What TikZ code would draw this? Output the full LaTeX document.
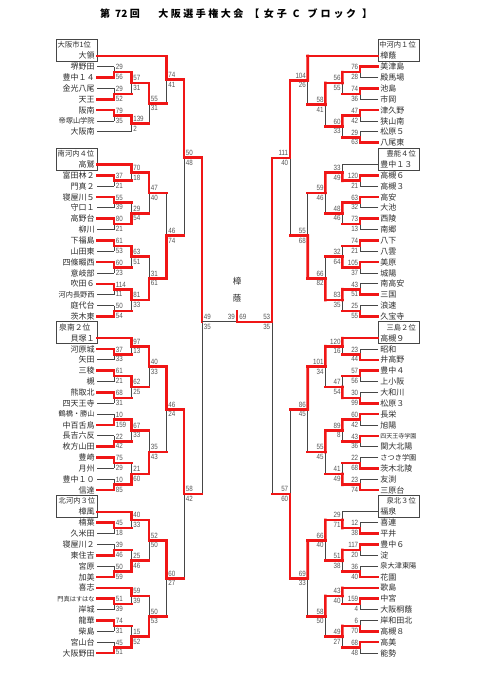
\documentclass[tikz,border=0pt]{standalone}
\usepackage{fontspec}
\setmainfont{Noto Sans CJK JP}
\newfontfamily\numfont[FakeStretch=0.82]{Liberation Sans}
\usetikzlibrary{calc}
\definecolor{wred}{RGB}{240,22,22}
\definecolor{lgray}{RGB}{70,70,70}
\definecolor{ntext}{RGB}{45,45,45}
\definecolor{stext}{RGB}{85,85,85}
\tikzset{
 lose/.style={draw=lgray,line width=0.85pt},
 win/.style={draw=wred,line width=2.6pt,line cap=rect},
 nmL/.style={anchor=east,inner xsep=2.2pt,inner ysep=0pt,text=ntext,font=\fontsize{8}{8}\selectfont},
 nmR/.style={anchor=west,inner xsep=2.2pt,inner ysep=0pt,text=ntext,font=\fontsize{8}{8}\selectfont},
 scbase/.style={text=stext,inner xsep=1.6pt,inner ysep=2pt,font=\numfont\fontsize{7.6}{7.6}\selectfont},
 hdr/.style={inner sep=0pt,text=ntext,font=\fontsize{7.3}{7.3}\selectfont},
 boxst/.style={draw=lgray,line width=0.9pt,minimum width=41pt,minimum height=22pt,inner sep=0pt},
 titlest/.style={inner sep=0pt,font=\bfseries\fontsize{10}{10}\selectfont,text=black},
 champst/.style={inner sep=0pt,align=center,text=ntext,font=\fontsize{8.5}{16.6}\selectfont},
}
\newcommand\mtL[9]{%
 \coordinate (#1t) at (#3 -| #2);
 \coordinate (#1b) at (#4 -| #2);
 \coordinate (#1) at ($(#1t)!0.5!(#1b)$);
 \draw[lose] (#1t) -- (#1b);
 \draw[#8] (#3) -- (#1t);
 \draw[#9] (#4) -- (#1b);
 \ifnum#5=1 \draw[win] (#1t) -- (#1);\else\draw[win] (#1b) -- (#1);\fi
 \node[scbase,anchor=south west] (#1u) at (#1) {#6};
 \node[scbase,anchor=north west] (#1d) at (#1) {#7};
}
\newcommand\mtR[9]{%
 \coordinate (#1t) at (#3 -| #2);
 \coordinate (#1b) at (#4 -| #2);
 \coordinate (#1) at ($(#1t)!0.5!(#1b)$);
 \draw[lose] (#1t) -- (#1b);
 \draw[#8] (#3) -- (#1t);
 \draw[#9] (#4) -- (#1b);
 \ifnum#5=1 \draw[win] (#1t) -- (#1);\else\draw[win] (#1b) -- (#1);\fi
 \node[scbase,anchor=south east] (#1u) at (#1) {#6};
 \node[scbase,anchor=north east] (#1d) at (#1) {#7};
}
\begin{document}
\begin{tikzpicture}[x=1pt,y=-1pt]
\fill[white] (0,0) rectangle (481,680);
\useasboundingbox (0,0) rectangle (481,680);
% title
\node[titlest,anchor=west] (title) at (100,14) {第\hspace{5pt}72\hspace{2.5pt}回\hspace{18.5pt}大\hspace{2.5pt}阪\hspace{2.5pt}選\hspace{2.5pt}手\hspace{2.5pt}権\hspace{2.5pt}大\hspace{2.5pt}会\hspace{6pt}【\hspace{4.5pt}女\hspace{3pt}子\hspace{6pt}C\hspace{8pt}ブ\hspace{3pt}ロ\hspace{3pt}ッ\hspace{2.5pt}ク\hspace{6pt}】};
% columns
\coordinate (c1) at (114,0); \coordinate (c2) at (131.5,0); \coordinate (c3) at (149,0);
\coordinate (c4) at (166.5,0); \coordinate (c5) at (184,0); \coordinate (c6) at (202,0);
\coordinate (d1) at (360,0); \coordinate (d2) at (342.3,0); \coordinate (d3) at (325.3,0);
\coordinate (d4) at (307.7,0); \coordinate (d5) at (290,0); \coordinate (d6) at (272,0);
% boxes
\foreach \k/\nm in {0/BL1,10/BL2,26/BL3,42/BL4}{
 \node[boxst] (\nm) at (76.5,{45+10.857*(\k+0.5)}) {};}
\foreach \k/\nm in {0/BR1,10/BR2,26/BR3,42/BR4}{
 \node[boxst] (\nm) at (398.5,{45+10.857*(\k+0.5)}) {};}
\node[hdr,anchor=west] (HL1) at (57.5,{45+10.857*0}) {大阪市1位};
\node[hdr,anchor=west] (HL2) at (57.5,{45+10.857*10}) {南河内４位};
\node[hdr,anchor=west,font=\fontsize{7.8}{7.8}\selectfont] (HL3) at (59,{45+10.857*26}) {泉南２位};
\node[hdr,anchor=west] (HL4) at (58.5,{45+10.857*42}) {北河内３位};
\node[hdr,anchor=east] (HR1) at (416,{45+10.857*0}) {中河内１位};
\node[hdr,anchor=east] (HR2) at (416,{45+10.857*10}) {豊能４位};
\node[hdr,anchor=east] (HR3) at (416,{45+10.857*26}) {三島２位};
\node[hdr,anchor=east] (HR4) at (416,{45+10.857*42}) {泉北３位};
% left names
\foreach \k/\t in {1/大領,2/堺野田,3/豊中１４,4/金光八尾,5/天王,6/阪南,7/{\fontsize{7.2}{7.2}\selectfont 帝塚山学院},8/大阪南,
 11/高鷲,12/富田林２,13/門真２,14/寝屋川５,15/守口１,16/高野台,17/柳川,18/下福島,19/山田東,20/四條畷西,21/意岐部,22/吹田６,23/{\fontsize{7.2}{7.2}\selectfont 河内長野西},24/庭代台,25/茨木東,
 27/貝塚１,28/河原城,29/矢田,30/三稜,31/槻,32/熊取北,33/四天王寺,34/{\fontsize{7.2}{7.2}\selectfont 鶴橋・勝山},35/中百舌鳥,36/長吉六反,37/枚方山田,38/豊崎,39/月州,40/豊中１０,41/信達,
 43/樟風,44/楠葉,45/久米田,46/寝屋川２,47/東住吉,48/宮原,49/加美,50/喜志,51/{\fontsize{6.2}{6.2}\selectfont 門真はすはな},52/岸城,53/龍華,54/柴島,55/宮山台,56/大阪野田}{
 \node[nmL] (L\k) at (97,{45+10.857*\k}) {\t};}
% right names
\foreach \k/\t in {1/樟蔭,2/美津島,3/殿馬場,4/池島,5/市岡,6/津久野,7/狭山南,8/松原５,9/八尾東,
 11/豊中１３,12/高槻６,13/高槻３,14/高安,15/大池,16/西陵,17/南郷,18/八下,19/八雲,20/美原,21/城陽,22/南高安,23/三国,24/浪速,25/久宝寺,
 27/高槻９,28/昭和,29/井高野,30/豊中４,31/上小阪,32/大和川,33/松原３,34/長栄,35/旭陽,36/{\fontsize{6}{6}\selectfont 四天王寺学園},37/関大北陽,38/{\fontsize{7.2}{7.2}\selectfont さつき学園},39/茨木北陵,40/友渕,41/三原台,
 43/福泉,44/喜連,45/平井,46/豊中６,47/淀,48/{\fontsize{7.2}{7.2}\selectfont 泉大津東陽},49/花園,50/歌島,51/中宮,52/大阪桐蔭,53/岸和田北,54/高槻８,55/高美,56/能勢}{
 \node[nmR] (R\k) at (378,{45+10.857*\k}) {\t};}
% ---- left bracket
\mtL{a1}{c1}{L2.east}{L3.east}{2}{29}{56}{lose}{win}
\mtL{a2}{c1}{L4.east}{L5.east}{2}{29}{52}{lose}{win}
\mtL{a3}{c1}{L6.east}{L7.east}{1}{79}{35}{win}{lose}
\mtL{b1}{c2}{a1}{a2}{1}{57}{31}{win}{win}
\mtL{b2}{c2}{a3}{L8.east}{1}{139}{2}{win}{lose}
\mtL{e1}{c3}{b1}{b2}{1}{55}{31}{win}{win}
\mtL{f1}{c4}{L1.east}{e1}{1}{74}{41}{win}{win}
\mtL{a4}{c1}{L12.east}{L13.east}{1}{37}{21}{win}{lose}
\mtL{a5}{c1}{L14.east}{L15.east}{1}{55}{39}{win}{lose}
\mtL{a6}{c1}{L16.east}{L17.east}{1}{80}{21}{win}{lose}
\mtL{b3}{c2}{L11.east}{a4}{1}{70}{18}{win}{win}
\mtL{b4}{c2}{a5}{a6}{2}{29}{54}{win}{win}
\mtL{e2}{c3}{b3}{b4}{1}{47}{40}{win}{win}
\mtL{a7}{c1}{L18.east}{L19.east}{1}{61}{53}{win}{lose}
\mtL{a8}{c1}{L20.east}{L21.east}{1}{60}{23}{win}{lose}
\mtL{b5}{c2}{a7}{a8}{1}{63}{51}{win}{win}
\mtL{a9}{c1}{L22.east}{L23.east}{1}{114}{11}{win}{lose}
\mtL{a10}{c1}{L24.east}{L25.east}{2}{50}{54}{lose}{win}
\mtL{b6}{c2}{a9}{a10}{1}{81}{33}{win}{win}
\mtL{e3}{c3}{b5}{b6}{2}{31}{61}{win}{win}
\mtL{f2}{c4}{e2}{e3}{2}{46}{74}{win}{win}
\mtL{g1}{c5}{f1}{f2}{1}{50}{48}{win}{win}
\mtL{a11}{c1}{L28.east}{L29.east}{1}{37}{33}{win}{lose}
\mtL{b7}{c2}{L27.east}{a11}{1}{97}{13}{win}{win}
\mtL{a12}{c1}{L30.east}{L31.east}{1}{61}{21}{win}{lose}
\mtL{a13}{c1}{L32.east}{L33.east}{1}{68}{31}{win}{lose}
\mtL{b8}{c2}{a12}{a13}{1}{62}{25}{win}{win}
\mtL{e4}{c3}{b7}{b8}{1}{40}{33}{win}{win}
\mtL{a14}{c1}{L34.east}{L35.east}{2}{10}{159}{lose}{win}
\mtL{a15}{c1}{L36.east}{L37.east}{2}{22}{42}{lose}{win}
\mtL{b9}{c2}{a14}{a15}{1}{67}{33}{win}{win}
\mtL{a16}{c1}{L38.east}{L39.east}{1}{75}{29}{win}{lose}
\mtL{a17}{c1}{L40.east}{L41.east}{2}{10}{85}{lose}{win}
\mtL{b10}{c2}{a16}{a17}{2}{21}{60}{win}{win}
\mtL{e5}{c3}{b9}{b10}{2}{35}{43}{win}{win}
\mtL{f3}{c4}{e4}{e5}{1}{46}{24}{win}{win}
\mtL{a18}{c1}{L44.east}{L45.east}{1}{45}{18}{win}{lose}
\mtL{b11}{c2}{L43.east}{a18}{1}{40}{33}{win}{win}
\mtL{a19}{c1}{L46.east}{L47.east}{2}{39}{46}{lose}{win}
\mtL{a20}{c1}{L48.east}{L49.east}{2}{50}{59}{lose}{win}
\mtL{b12}{c2}{a19}{a20}{2}{25}{46}{win}{win}
\mtL{e6}{c3}{b11}{b12}{1}{52}{50}{win}{win}
\mtL{a21}{c1}{L51.east}{L52.east}{1}{51}{39}{win}{lose}
\mtL{b13}{c2}{L50.east}{a21}{1}{59}{39}{win}{win}
\mtL{a22}{c1}{L53.east}{L54.east}{1}{74}{31}{win}{lose}
\mtL{a23}{c1}{L55.east}{L56.east}{2}{45}{51}{lose}{win}
\mtL{b14}{c2}{a22}{a23}{2}{15}{52}{win}{win}
\mtL{e7}{c3}{b13}{b14}{2}{50}{53}{win}{win}
\mtL{f4}{c4}{e6}{e7}{1}{60}{27}{win}{win}
\mtL{g2}{c5}{f3}{f4}{1}{58}{42}{win}{win}
% ---- right bracket
\mtR{ra1}{d1}{R2.west}{R3.west}{1}{76}{28}{win}{lose}
\mtR{ra2}{d1}{R4.west}{R5.west}{1}{74}{36}{win}{lose}
\mtR{ra3}{d1}{R6.west}{R7.west}{1}{47}{42}{win}{lose}
\mtR{ra4}{d1}{R8.west}{R9.west}{2}{29}{63}{lose}{win}
\mtR{rb1}{d2}{ra1}{ra2}{1}{56}{55}{win}{win}
\mtR{rb2}{d2}{ra3}{ra4}{1}{60}{33}{win}{win}
\mtR{re1}{d3}{rb1}{rb2}{1}{58}{41}{win}{win}
\mtR{rf1}{d4}{R1.west}{re1}{1}{104}{26}{win}{win}
\mtR{ra5}{d1}{R12.west}{R13.west}{1}{120}{21}{win}{lose}
\mtR{rb3}{d2}{R11.west}{ra5}{2}{33}{49}{lose}{win}
\mtR{ra6}{d1}{R14.west}{R15.west}{1}{63}{32}{win}{lose}
\mtR{ra7}{d1}{R16.west}{R17.west}{1}{73}{13}{win}{lose}
\mtR{rb4}{d2}{ra6}{ra7}{1}{48}{46}{win}{win}
\mtR{re2}{d3}{rb3}{rb4}{1}{59}{46}{win}{win}
\mtR{ra8}{d1}{R18.west}{R19.west}{1}{74}{21}{win}{lose}
\mtR{ra9}{d1}{R20.west}{R21.west}{1}{105}{37}{win}{lose}
\mtR{rb5}{d2}{ra8}{ra9}{2}{32}{64}{win}{win}
\mtR{ra10}{d1}{R22.west}{R23.west}{2}{43}{51}{lose}{win}
\mtR{ra11}{d1}{R24.west}{R25.west}{2}{25}{55}{lose}{win}
\mtR{rb6}{d2}{ra10}{ra11}{1}{83}{35}{win}{win}
\mtR{re3}{d3}{rb5}{rb6}{2}{66}{82}{win}{win}
\mtR{rf2}{d4}{re2}{re3}{2}{55}{68}{win}{win}
\mtR{rg1}{d5}{rf1}{rf2}{1}{111}{40}{win}{win}
\mtR{ra12}{d1}{R28.west}{R29.west}{2}{23}{44}{lose}{win}
\mtR{rb7}{d2}{R27.west}{ra12}{1}{120}{16}{win}{win}
\mtR{ra13}{d1}{R30.west}{R31.west}{1}{57}{56}{win}{lose}
\mtR{ra14}{d1}{R32.west}{R33.west}{2}{30}{99}{lose}{win}
\mtR{rb8}{d2}{ra13}{ra14}{2}{47}{54}{win}{win}
\mtR{re4}{d3}{rb7}{rb8}{1}{101}{34}{win}{win}
\mtR{ra15}{d1}{R34.west}{R35.west}{1}{60}{42}{win}{lose}
\mtR{ra16}{d1}{R36.west}{R37.west}{1}{43}{36}{win}{lose}
\mtR{rb9}{d2}{ra15}{ra16}{1}{89}{8}{win}{win}
\mtR{ra17}{d1}{R38.west}{R39.west}{2}{22}{68}{lose}{win}
\mtR{ra18}{d1}{R40.west}{R41.west}{2}{23}{74}{lose}{win}
\mtR{rb10}{d2}{ra17}{ra18}{2}{41}{49}{win}{win}
\mtR{re5}{d3}{rb9}{rb10}{1}{55}{45}{win}{win}
\mtR{rf3}{d4}{re4}{re5}{1}{86}{45}{win}{win}
\mtR{ra19}{d1}{R44.west}{R45.west}{2}{12}{38}{lose}{win}
\mtR{rb11}{d2}{R43.west}{ra19}{2}{29}{71}{lose}{win}
\mtR{ra20}{d1}{R46.west}{R47.west}{1}{117}{20}{win}{lose}
\mtR{ra21}{d1}{R48.west}{R49.west}{2}{36}{40}{lose}{win}
\mtR{rb12}{d2}{ra20}{ra21}{1}{51}{38}{win}{win}
\mtR{re6}{d3}{rb11}{rb12}{1}{66}{40}{win}{win}
\mtR{ra22}{d1}{R51.west}{R52.west}{1}{159}{4}{win}{lose}
\mtR{rb13}{d2}{R50.west}{ra22}{1}{43}{40}{win}{win}
\mtR{ra23}{d1}{R53.west}{R54.west}{2}{6}{70}{lose}{win}
\mtR{ra24}{d1}{R55.west}{R56.west}{1}{68}{48}{win}{lose}
\mtR{rb14}{d2}{ra23}{ra24}{1}{49}{27}{win}{win}
\mtR{re7}{d3}{rb13}{rb14}{1}{58}{50}{win}{win}
\mtR{rf4}{d4}{re6}{re7}{1}{69}{33}{win}{win}
\mtR{rg2}{d5}{rf3}{rf4}{2}{57}{60}{win}{win}
% ---- final
\coordinate (fin) at (237,321.9);
\coordinate (ctop) at (237,311.7);
\coordinate (ht) at (g1 -| c6); \coordinate (hb) at (g2 -| c6); \coordinate (hm) at (fin -| c6);
\draw[lose] (ht) -- (hb);
\draw[win] (g1) -- (ht); \draw[win] (g2) -- (hb); \draw[win] (ht) -- (hm);
\node[scbase,anchor=south west] (hu) at (hm) {49};
\node[scbase,anchor=north west] (hd) at (hm) {35};
\coordinate (rht) at (rg1 -| d6); \coordinate (rhb) at (rg2 -| d6); \coordinate (rhm) at (fin -| d6);
\draw[lose] (rht) -- (rhb);
\draw[win] (rg1) -- (rht); \draw[win] (rg2) -- (rhb); \draw[win] (rht) -- (rhm);
\node[scbase,anchor=south east] (rhu) at (rhm) {53};
\node[scbase,anchor=north east] (rhd) at (rhm) {35};
\draw[lose] (hm) -- (fin);
\draw[win] (rhm) -- (fin) -- (ctop);
\node[scbase,anchor=south east,inner xsep=2pt] (fsl) at (fin) {39};
\node[scbase,anchor=south west,inner xsep=2.2pt] (fsr) at (fin) {69};
\node[champst] (champ) at (237,290) {樟\\蔭};
\end{tikzpicture}
\end{document}
